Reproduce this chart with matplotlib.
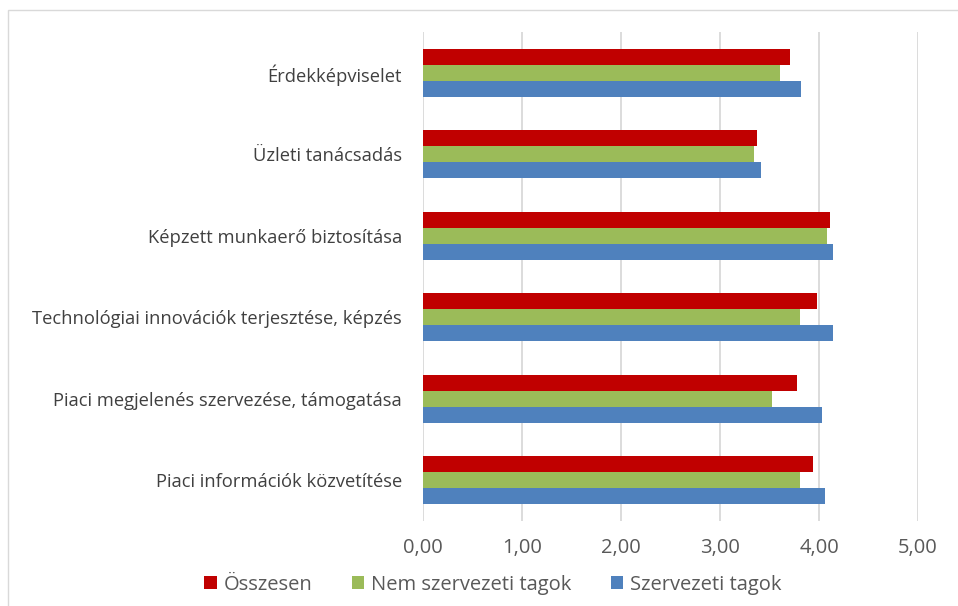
import matplotlib
matplotlib.use("Agg")
import matplotlib.pyplot as plt
from matplotlib.patches import Rectangle, Patch
import numpy as np

categories = [
    "Piaci információk közvetítése",
    "Piaci megjelenés szervezése, támogatása",
    "Technológiai innovációk terjesztése, képzés",
    "Képzett munkaerő biztosítása",
    "Üzleti tanácsadás",
    "Érdekképviselet",
]
osszesen = [3.94, 3.78, 3.98, 4.11, 3.37, 3.71]
nem_szervezeti = [3.81, 3.53, 3.81, 4.08, 3.34, 3.61]
szervezeti = [4.06, 4.03, 4.14, 4.14, 3.41, 3.815]
series_names = ["Összesen", "Nem szervezeti tagok", "Szervezeti tagok"]
colors = ["#C00000", "#9BBB59", "#4F81BD"]
xticks = [0, 1, 2, 3, 4, 5]
xtick_labels = ["0,00", "1,00", "2,00", "3,00", "4,00", "5,00"]

plt.rcParams['font.family'] = ['Open Sans', 'DejaVu Sans']

fig = plt.figure(figsize=(9.58, 6.06), dpi=100)
W, H = 958, 606
ax = fig.add_axes([423 / W, 1 - 521 / H, (918 - 423) / W, (521 - 32) / H])

y = np.arange(len(categories))
h = 16 / 81.5
for vals, off, col in zip([osszesen, nem_szervezeti, szervezeti], [h, 0, -h], colors):
    ax.barh(y + off, vals, height=h, color=col, zorder=3)

ax.set_xlim(0, 5)
ax.set_ylim(-0.5, len(categories) - 0.5)
ax.set_xticks(xticks)
ax.set_xticklabels(xtick_labels, fontsize=14.5, color="#595959")
ax.set_yticks(y)
ax.set_yticklabels(categories, fontsize=13.2, color="#404040", va='center_baseline')
ax.tick_params(axis='both', length=0)
ax.tick_params(axis='x', pad=12)
ax.tick_params(axis='y', pad=15)
ax.grid(axis='x', color="#D9D9D9", linewidth=1.3, zorder=0)
for s in ax.spines.values():
    s.set_visible(False)

# outer chart border
fig.patches.append(Rectangle((8 / W, -0.05), 1.1, 1 - 10 / H + 0.05,
                             transform=fig.transFigure, fill=False,
                             edgecolor="#D9D9D9", linewidth=1.0))

handles = [Patch(facecolor=c) for c in colors]
fig.legend(handles, series_names, loc='center', bbox_to_anchor=(493 / W, 1 - 585 / H),
           ncol=3, frameon=False, fontsize=14.5, handlelength=0.62, handleheight=0.62,
           columnspacing=1.95, handletextpad=0.35, labelcolor="#595959")

fig.savefig("out.png", dpi=100)
